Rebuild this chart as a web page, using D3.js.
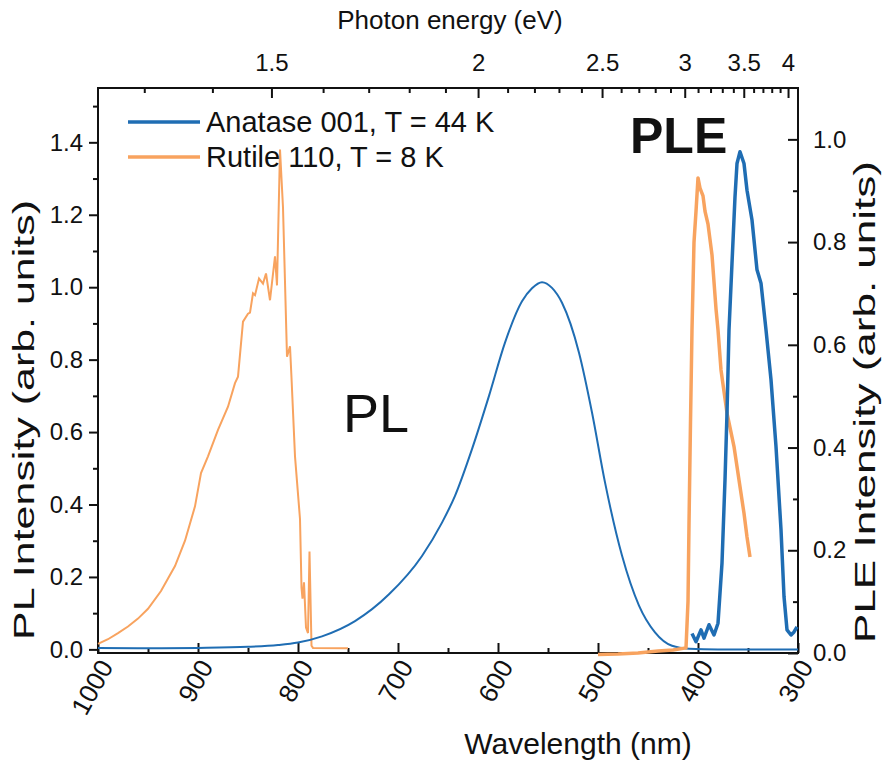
<!DOCTYPE html>
<html>
<head>
<meta charset="utf-8">
<script src="https://cdn.jsdelivr.net/npm/d3@7"></script>
<style>
  body { margin: 0; background: #fff; }
  svg text { font-family: "Liberation Sans", Arial, sans-serif; fill: #111; }
</style>
</head>
<body>
<div id="chart"></div>
<script>
// series: [wavelength nm, intensity]
const plAnatase = [[1000,0.004],[950,0.003],[900,0.004],[850,0.007],[820,0.012],[800,0.019],[776,0.036],[743,0.078],[709,0.152],[676,0.258],[656,0.35],[643,0.424],[626,0.553],[609,0.70],[593,0.847],[576,0.961],[566,0.997],[556,1.014],[546,0.998],[536,0.957],[519,0.819],[506,0.654],[493,0.461],[476,0.259],[459,0.121],[443,0.047],[426,0.010],[409,0.002],[380,0.0],[300,0.0]];

const plRutile = [[1000,0.015],[990,0.028],[980,0.045],[970,0.063],[960,0.085],[950,0.112],[937,0.161],[923,0.23],[913,0.30],[903,0.395],[897,0.487],[890,0.533],[880,0.606],[870,0.67],[863,0.735],[860,0.753],[855,0.905],[850,0.927],[848,0.93],[845,0.983],[843,0.978],[839,1.024],[835,1.01],[832,1.038],[828,0.964],[823,1.085],[821,1.005],[818,1.38],[815,1.22],[811,0.808],[808,0.837],[806.5,0.75],[803,0.533],[798,0.36],[796.5,0.17],[795.5,0.14],[794,0.185],[792,0.06],[790,0.045],[788.5,0.27],[786.5,0.01],[785,0.004],[750,0.003]];

const pleAnatase = [[406,0.038],[402,0.022],[397,0.045],[394,0.029],[389,0.055],[384,0.035],[380,0.058],[376,0.175],[373,0.337],[371,0.467],[369,0.629],[366,0.759],[363,0.888],[361,0.953],[358,0.976],[354,0.953],[351,0.901],[346,0.843],[341,0.746],[337,0.72],[332,0.629],[327,0.532],[322,0.402],[317,0.24],[314,0.11],[311,0.045],[307,0.035],[304,0.041],[301,0.051]];

const pleRutile = [[500,-0.003],[480,-0.002],[460,0.0],[440,0.004],[425,0.006],[412,0.01],[410,0.1],[409,0.25],[407.5,0.45],[406,0.63],[404,0.8],[402,0.86],[400,0.925],[398,0.905],[395,0.89],[393,0.86],[390,0.835],[386,0.775],[382,0.67],[380,0.629],[377,0.551],[371,0.467],[364,0.402],[359,0.337],[354,0.272],[351,0.226],[348,0.187]];

// axis ticks
const wlMajor = [1000, 900, 800, 700, 600, 500, 400, 300];
const wlMinor = [950, 850, 750, 650, 550, 450, 350];
const evMajor = [1.5, 2, 2.5, 3, 3.5, 4];
const evMinor = [1.3, 1.4, 1.6, 1.7, 1.8, 1.9, 2.1, 2.2, 2.3, 2.4, 2.6, 2.7, 2.8, 2.9, 3.1, 3.2, 3.3, 3.4, 3.6, 3.7, 3.8, 3.9];
const plTicks = [0, 0.2, 0.4, 0.6, 0.8, 1.0, 1.2, 1.4];
const pleTicks = [0, 0.2, 0.4, 0.6, 0.8, 1.0];

const legendItems = ["Anatase 001, T = 44 K", "Rutile 110, T = 8 K"];
const blue = "#1f6db3", orange = "#f8a35f";

const W = 886, H = 769;
const pLeft = 98, pRight = 798, pTop = 88, pBottom = 653;

const svg = d3.select("#chart").append("svg")
    .attr("width", W).attr("height", H);

const x = d3.scaleLinear().domain([1000, 300]).range([pLeft, pRight]);
const yL = d3.scaleLinear().domain([-0.01, 1.55]).range([pBottom, pTop]);
const yR = d3.scaleLinear().domain([0, 1.1]).range([pBottom, pTop]);

// bottom axis (ticks inward)
svg.append("g").attr("transform", `translate(0,${pBottom})`)
    .call(d3.axisBottom(x).tickValues(wlMajor).tickSize(-10).tickSizeOuter(0).tickFormat(""));
svg.append("g").attr("transform", `translate(0,${pBottom})`)
    .call(d3.axisBottom(x).tickValues(wlMinor).tickSize(-5).tickSizeOuter(0).tickFormat(""));
svg.append("g").selectAll("text").data(wlMajor).join("text")
    .attr("transform", d => `translate(${x(d) + 8},${pBottom + 9}) rotate(-61)`)
    .attr("text-anchor", "end").attr("dy", "0.35em")
    .attr("font-size", 26).text(d => d);

// top axis: photon energy, placed at wavelength = 1239.84 / E
const toWl = e => 1239.84 / e;
svg.append("g").attr("transform", `translate(0,${pTop})`)
    .call(d3.axisTop(x).tickValues(evMajor.map(toWl)).tickSize(-10).tickSizeOuter(0).tickPadding(17)
        .tickFormat((d, i) => evMajor[i]))
    .attr("font-size", 24).attr("font-family", null);
svg.append("g").attr("transform", `translate(0,${pTop})`)
    .call(d3.axisTop(x).tickValues(evMinor.map(toWl)).tickSize(-5).tickSizeOuter(0).tickFormat(""));

// left axis (ticks outward)
svg.append("g").attr("transform", `translate(${pLeft},0)`)
    .call(d3.axisLeft(yL).tickValues(plTicks).tickSize(9).tickSizeOuter(0).tickPadding(6).tickFormat(d3.format(".1f")))
    .attr("font-size", 24).attr("font-family", null);
svg.append("g").attr("transform", `translate(${pLeft},0)`)
    .call(d3.axisLeft(yL).tickValues(d3.range(0.1, 1.55, 0.2)).tickSize(5).tickSizeOuter(0).tickFormat(""));

// right axis (ticks inward)
svg.append("g").attr("transform", `translate(${pRight},0)`)
    .call(d3.axisRight(yR).tickValues(pleTicks).tickSize(-10).tickSizeOuter(0).tickPadding(15).tickFormat(d3.format(".1f")))
    .attr("font-size", 24).attr("font-family", null);
svg.append("g").attr("transform", `translate(${pRight},0)`)
    .call(d3.axisRight(yR).tickValues(d3.range(0.1, 1.1, 0.2)).tickSize(-5).tickSizeOuter(0).tickFormat(""));

svg.selectAll(".tick line").attr("stroke", "#111").attr("stroke-width", 2);
svg.selectAll(".domain").remove();

// frame
svg.append("rect").attr("x", pLeft).attr("y", pTop)
    .attr("width", pRight - pLeft).attr("height", pBottom - pTop)
    .attr("fill", "none").attr("stroke", "#111").attr("stroke-width", 2);

// data lines
const lineL = d3.line().x(d => x(d[0])).y(d => yL(d[1]));
const lineR = d3.line().x(d => x(d[0])).y(d => yR(d[1]));

svg.append("path").datum(plRutile).attr("d", lineL)
    .attr("fill", "none").attr("stroke", orange).attr("stroke-width", 2);
svg.append("path").datum(plAnatase).attr("d", d3.line().x(d => x(d[0])).y(d => yL(d[1])).curve(d3.curveMonotoneX))
    .attr("fill", "none").attr("stroke", blue).attr("stroke-width", 2);
svg.append("path").datum(pleRutile).attr("d", lineR)
    .attr("fill", "none").attr("stroke", orange).attr("stroke-width", 3.5).attr("stroke-linejoin", "round");
svg.append("path").datum(pleAnatase).attr("d", lineR)
    .attr("fill", "none").attr("stroke", blue).attr("stroke-width", 3.5).attr("stroke-linejoin", "round");

// legend
const leg = svg.append("g");
legendItems.forEach((t, i) => {
  const yy = 122 + i * 35;
  leg.append("line").attr("x1", 128).attr("x2", 200).attr("y1", yy).attr("y2", yy)
      .attr("stroke", i === 0 ? blue : orange).attr("stroke-width", 3.5);
  leg.append("text").attr("x", 206).attr("y", yy).attr("dy", "0.35em")
      .attr("font-size", 29).text(t);
});

// annotations
svg.append("text").attr("x", 343).attr("y", 432).attr("font-size", 54).text("PL");
svg.append("text").attr("x", 630).attr("y", 153).attr("font-size", 50)
    .attr("font-weight", "bold").text("PLE");

// axis titles
svg.append("text").attr("x", 450).attr("y", 29).attr("text-anchor", "middle")
    .attr("font-size", 26).text("Photon energy (eV)");
svg.append("text").attr("x", 578).attr("y", 754).attr("text-anchor", "middle")
    .attr("font-size", 30).text("Wavelength (nm)");
svg.append("text").attr("transform", "translate(34,420) rotate(-90)").attr("text-anchor", "middle")
    .attr("font-size", 30).attr("textLength", 440).attr("lengthAdjust", "spacingAndGlyphs")
    .text("PL Intensity (arb. units)");
svg.append("text").attr("transform", "translate(875,402) rotate(-90)").attr("text-anchor", "middle")
    .attr("font-size", 30).attr("textLength", 482).attr("lengthAdjust", "spacingAndGlyphs")
    .text("PLE Intensity (arb. units)");
</script>
</body>
</html>
